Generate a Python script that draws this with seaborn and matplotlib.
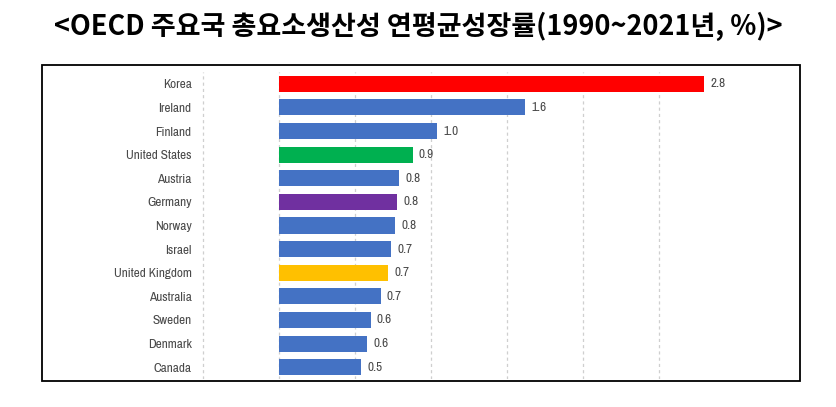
import matplotlib
matplotlib.use("Agg")
import matplotlib.pyplot as plt
import seaborn as sns
import pandas as pd
from matplotlib.patches import Rectangle
from matplotlib import font_manager as fm

countries = ["Korea", "Ireland", "Finland", "United States", "Austria", "Germany",
             "Norway", "Israel", "United Kingdom", "Australia", "Sweden", "Denmark", "Canada"]
values = [2.80, 1.62, 1.04, 0.88, 0.79, 0.78, 0.765, 0.74, 0.72, 0.67, 0.605, 0.58, 0.54]
value_labels = ["2.8", "1.6", "1.0", "0.9", "0.8", "0.8", "0.8", "0.7", "0.7", "0.7", "0.6", "0.6", "0.5"]
bar_colors = ["#FF0000", "#4472C4", "#4472C4", "#00B050", "#4472C4", "#7030A0",
              "#4472C4", "#4472C4", "#FFC000", "#4472C4", "#4472C4", "#4472C4", "#4472C4"]
title = "<OECD 주요국 총요소생산성 연평균성장률(1990~2021년, %)>"

sns.set_theme(style="white")


def pick_narrow_font():
    fonts = fm.fontManager.ttflist
    for f in fonts:
        if "Narrow" in f.name and f.weight in (400, "normal", "regular") and f.style == "normal":
            return fm.FontProperties(fname=f.fname), 9.5
    for f in fonts:
        if "Narrow" in f.name and f.style == "normal":
            return fm.FontProperties(fname=f.fname), 9.5
    for f in fonts:
        if f.name == "DejaVu Sans" and "condensed" in str(f.stretch).lower() \
                and f.style == "normal" and f.weight in (400, "normal", "regular", "book"):
            return fm.FontProperties(fname=f.fname), 7.6
    return fm.FontProperties(family="Liberation Sans"), 7.5


label_fp, label_size = pick_narrow_font()
label_fp.set_size(label_size)

df = pd.DataFrame({"country": countries, "value": values})

W, H = 837, 407
fig = plt.figure(figsize=(W / 100, H / 100), dpi=100)
ax = fig.add_axes([195 / W, 28 / H, 532 / W, 307 / H])

sns.barplot(data=df, y="country", x="value", hue="country", palette=bar_colors,
            order=countries, hue_order=countries, legend=False, orient="h",
            width=0.68, saturation=1, ax=ax, zorder=3, edgecolor="none")

ax.set_xlim(-0.553, 2.95)
ax.set_ylim(12.5, -0.5)
ax.set_xticks([-0.5, 0, 0.5, 1.0, 1.5, 2.0, 2.5])
ax.set_xticklabels([])
ax.grid(axis="x", color="#cfcfcf", linestyle=(0, (2.5, 2.5)), linewidth=0.9, zorder=0)
ax.grid(axis="y", visible=False)
for s in ax.spines.values():
    s.set_visible(False)
ax.tick_params(axis="both", length=0)
ax.tick_params(axis="y", pad=2.5, labelcolor="#4a4a4a")
ax.set_xlabel("")
ax.set_ylabel("")
for lbl in ax.get_yticklabels():
    lbl.set_fontproperties(label_fp)

for i, (v, t) in enumerate(zip(values, value_labels)):
    ax.text(v + 0.04, i, t, va="center", ha="left", fontproperties=label_fp,
            color="#4a4a4a")

fig.patches.append(Rectangle((42 / W, 26 / H), 758 / W, 316 / H, transform=fig.transFigure,
                             fill=False, edgecolor="black", linewidth=1.3))

fig.text(418 / W, 1 - 26 / H, title, ha="center", va="center", fontsize=19.5,
         fontweight="bold", family=["Noto Sans CJK KR", "DejaVu Sans"], color="black")

fig.savefig("out.png", dpi=100)
